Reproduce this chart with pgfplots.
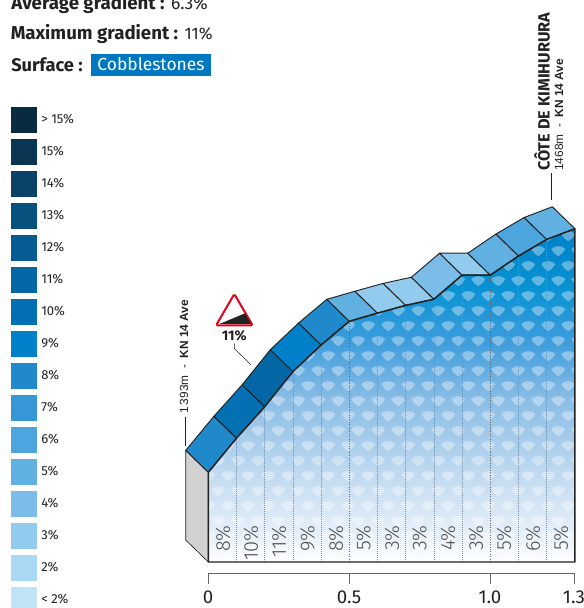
\documentclass[border=0pt]{standalone}
\usepackage{pgfplots}
\pgfplotsset{compat=1.18}
\usepackage{fontspec}
\setmainfont{Fira Sans}
\newfontfamily\arial{Liberation Sans}
\newfontfamily\lightf{Fira Sans Light}
\usetikzlibrary{patterns}
\definecolor{cA}{HTML}{0A2A40}\definecolor{cB}{HTML}{0A3653}\definecolor{cC}{HTML}{0A4268}
\definecolor{cD}{HTML}{07517F}\definecolor{cE}{HTML}{065C92}\definecolor{c11}{HTML}{0367A6}
\definecolor{c10}{HTML}{0270B2}\definecolor{c9}{HTML}{0080C8}\definecolor{c8}{HTML}{1F89CB}
\definecolor{c7}{HTML}{3796D6}\definecolor{c6}{HTML}{4CA5DC}\definecolor{c5}{HTML}{60B0E1}
\definecolor{c4}{HTML}{7BBDE8}\definecolor{c3}{HTML}{93CBEE}\definecolor{c2}{HTML}{AAD8F2}
\definecolor{c1}{HTML}{C3E3F6}\definecolor{ink}{HTML}{222222}
\definecolor{boxblue}{HTML}{0078C1}\definecolor{signred}{HTML}{E2001A}
\definecolor{g1}{HTML}{EAF2FA}\definecolor{g2}{HTML}{C5DCF1}\definecolor{g3}{HTML}{8BBDE6}
\definecolor{g4}{HTML}{3C9CDC}\definecolor{g5}{HTML}{0A93D4}\definecolor{g6}{HTML}{0082C8}
\pgfdeclareverticalshading{climb}{100bp}{
 color(0bp)=(white);
 color(25bp)=(white);
 color(28.3bp)=(g1);
 color(37.3bp)=(g2);
 color(49.3bp)=(g3);
 color(58.35bp)=(g4);
 color(65.85bp)=(g5);
 color(74bp)=(g6);
 color(100bp)=(g6)}
% fan centres at (6.2pt,9pt) and (13.7pt,20.25pt)
\pgfdeclarepatternformonly{fans}{\pgfqpoint{0pt}{0pt}}{\pgfqpoint{20pt}{25pt}}{\pgfqpoint{15pt}{22.5pt}}{
 \pgfpathmoveto{\pgfqpoint{6.2pt}{5.1pt}}
 \pgfpathcurveto{\pgfqpoint{4pt}{6.2pt}}{\pgfqpoint{2pt}{8.2pt}}{\pgfqpoint{0.95pt}{10.4pt}}
 \pgfpathcurveto{\pgfqpoint{3.2pt}{13.4pt}}{\pgfqpoint{9.2pt}{13.4pt}}{\pgfqpoint{11.45pt}{10.4pt}}
 \pgfpathcurveto{\pgfqpoint{10.4pt}{8.2pt}}{\pgfqpoint{8.4pt}{6.2pt}}{\pgfqpoint{6.2pt}{5.1pt}}
 \pgfpathclose
 \pgfpathmoveto{\pgfqpoint{13.7pt}{16.35pt}}
 \pgfpathcurveto{\pgfqpoint{11.5pt}{17.45pt}}{\pgfqpoint{9.5pt}{19.45pt}}{\pgfqpoint{8.45pt}{21.65pt}}
 \pgfpathcurveto{\pgfqpoint{10.7pt}{24.65pt}}{\pgfqpoint{16.7pt}{24.65pt}}{\pgfqpoint{18.95pt}{21.65pt}}
 \pgfpathcurveto{\pgfqpoint{17.9pt}{19.45pt}}{\pgfqpoint{15.9pt}{17.45pt}}{\pgfqpoint{13.7pt}{16.35pt}}
 \pgfpathclose
 \pgfusepath{fill}}
\newcommand{\seg}[5]{\addplot[fill=#1,draw=ink,line width=0.7pt,line join=round] coordinates {#2 #3 #4 #5} -- cycle;}
\begin{document}
\begin{tikzpicture}
\useasboundingbox (0,0) rectangle (438pt,456pt);
\begin{axis}[at={(0,0)},anchor=south west,scale only axis,width=438pt,height=456pt,
 xmin=-0.73865,xmax=1.33227,ymin=1351.22,ymax=1538.41,axis lines=none,clip=false]
% side wall
\addplot[fill=black!18,draw=ink,line width=0.5pt] coordinates {(-0.08,1399.75)(0,1393)(0,1365.38)(-0.08,1372.13)} -- cycle;
% front face, gradient
\addplot[draw=none,shading=climb] coordinates {(0,1365.38)(0,1393)(0.1,1403.5)(0.2,1413.2)(0.3,1424.0)(0.4,1432.2)(0.5,1439.5)(0.6,1442.0)(0.7,1444.4)(0.8,1446.3)(0.9,1453.7)(1.0,1453.7)(1.1,1459.6)(1.2,1464.7)(1.3,1468)(1.3,1365.38)} -- cycle;
\addplot[draw=none,pattern=fans,pattern color=white,fill opacity=0.36] coordinates {(0,1365.38)(0,1393)(0.1,1403.5)(0.2,1413.2)(0.3,1424.0)(0.4,1432.2)(0.5,1439.5)(0.6,1442.0)(0.7,1444.4)(0.8,1446.3)(0.9,1453.7)(1.0,1453.7)(1.1,1459.6)(1.2,1464.7)(1.3,1468)(1.3,1365.38)} -- cycle;
% dotted verticals
\addplot[densely dotted,black!45,line width=0.5pt,forget plot] coordinates {(0.1,1365.38)(0.1,1403.5)};
\addplot[densely dotted,black!45,line width=0.5pt] coordinates {(0.2,1365.38)(0.2,1413.2)};
\addplot[densely dotted,black!45,line width=0.5pt] coordinates {(0.3,1365.38)(0.3,1424.0)};
\addplot[densely dotted,black!45,line width=0.5pt] coordinates {(0.4,1365.38)(0.4,1432.2)};
\addplot[densely dotted,black!60,line width=0.8pt] coordinates {(0.5,1365.38)(0.5,1439.5)};
\addplot[densely dotted,black!45,line width=0.5pt] coordinates {(0.6,1365.38)(0.6,1442.0)};
\addplot[densely dotted,black!45,line width=0.5pt] coordinates {(0.7,1365.38)(0.7,1444.4)};
\addplot[densely dotted,black!45,line width=0.5pt] coordinates {(0.8,1365.38)(0.8,1446.3)};
\addplot[densely dotted,black!45,line width=0.5pt] coordinates {(0.9,1365.38)(0.9,1453.7)};
\addplot[densely dotted,black!60,line width=0.8pt] coordinates {(1.0,1365.38)(1.0,1453.7)};
\addplot[densely dotted,black!45,line width=0.5pt] coordinates {(1.1,1365.38)(1.1,1459.6)};
\addplot[densely dotted,black!45,line width=0.5pt] coordinates {(1.2,1365.38)(1.2,1464.7)};
% top road segments
\seg{c8}{(0,1393)}{(0.1,1403.5)}{(0.02,1410.25)}{(-0.08,1399.75)}
\seg{c10}{(0.1,1403.5)}{(0.2,1413.2)}{(0.12,1419.95)}{(0.02,1410.25)}
\seg{c11}{(0.2,1413.2)}{(0.3,1424.0)}{(0.22,1430.75)}{(0.12,1419.95)}
\seg{c9}{(0.3,1424.0)}{(0.4,1432.2)}{(0.32,1438.95)}{(0.22,1430.75)}
\seg{c8}{(0.4,1432.2)}{(0.5,1439.5)}{(0.42,1446.25)}{(0.32,1438.95)}
\seg{c5}{(0.5,1439.5)}{(0.6,1442.0)}{(0.52,1448.75)}{(0.42,1446.25)}
\seg{c3}{(0.6,1442.0)}{(0.7,1444.4)}{(0.62,1451.15)}{(0.52,1448.75)}
\seg{c3}{(0.7,1444.4)}{(0.8,1446.3)}{(0.72,1453.05)}{(0.62,1451.15)}
\seg{c4}{(0.8,1446.3)}{(0.9,1453.7)}{(0.82,1460.45)}{(0.72,1453.05)}
\seg{c3}{(0.9,1453.7)}{(1.0,1453.7)}{(0.92,1460.45)}{(0.82,1460.45)}
\seg{c5}{(1.0,1453.7)}{(1.1,1459.6)}{(1.02,1466.35)}{(0.92,1460.45)}
\seg{c6}{(1.1,1459.6)}{(1.2,1464.7)}{(1.12,1471.45)}{(1.02,1466.35)}
\seg{c5}{(1.2,1464.7)}{(1.3,1468)}{(1.22,1474.75)}{(1.12,1471.45)}
% heavy front edge
\addplot[draw=ink,line width=1.1pt,line join=round] coordinates {(0,1365.38)(0,1393)(0.1,1403.5)(0.2,1413.2)(0.3,1424.0)(0.4,1432.2)(0.5,1439.5)(0.6,1442.0)(0.7,1444.4)(0.8,1446.3)(0.9,1453.7)(1.0,1453.7)(1.1,1459.6)(1.2,1464.7)(1.3,1468)(1.3,1365.38)(0,1365.38)};
% distance scale
\addplot[draw=black!60,line width=0.7pt] coordinates {(0,1358.6)(0,1362)(1.3,1362)(1.3,1358.6)};
\addplot[draw=black!60,line width=0.7pt] coordinates {(0.5,1362)(0.5,1358.6)};
\addplot[draw=black!60,line width=0.7pt] coordinates {(1.0,1362)(1.0,1358.6)};
\end{axis}
\begin{scope}[x=0.75pt,y=-0.75pt,shift={(0,456pt)}]
\node[anchor=base west,inner sep=0,text=ink,font=\fontsize{13.3}{14}\selectfont] at (11,10) {\fontsize{14}{14}\selectfont\textbf{Average gradient :} \fontsize{13.1}{14}\selectfont 6.3\%};
\node[anchor=base west,inner sep=0,text=ink,font=\fontsize{13.3}{14}\selectfont] at (10.5,39.5) {\fontsize{14}{14}\selectfont\textbf{Maximum gradient :} \fontsize{12.5}{14}\selectfont 11\%};
\node[anchor=base west,inner sep=0,text=ink,font=\fontsize{13.7}{14}\selectfont] at (11,71.5) {\textbf{Surface :}};
\fill[boxblue] (91,54) rectangle (211,76);
\node[anchor=base,inner sep=0,text=white,font=\fontsize{13.1}{14}\selectfont] at (151,71) {Cobblestones};
% legend
\foreach \c/\l [count=\i from 0] in {cA/{> 15\%},cB/15\%,cC/14\%,cD/13\%,cE/12\%,c11/11\%,c10/10\%,c9/9\%,c8/8\%,c7/7\%,c6/6\%,c5/5\%,c4/4\%,c3/3\%,c2/2\%,c1/{< 2\%}}{
 \fill[\c] (11,107+32*\i) rectangle (37,133+32*\i);
 \node[anchor=west,inner sep=0,text=ink,font=\fontsize{9.8}{10}\selectfont] at (41,119.5+32*\i) {\l};
}
% percent labels
\foreach \x/\l in {223/8,251/10,279/11,307.5/9,336/8,363.5/5,392/3,419.5/3,448/4,476/3,504/5,533/6,561/5}{
 \node[rotate=90,anchor=east,inner sep=0,text=black!70,font=\lightf\fontsize{15}{15}\selectfont] at (\x,525) {\l\%};
}
% km labels
\foreach \x/\l in {208/0,349/0.5,490/1.0,574/1.3}{
 \node[anchor=base,inner sep=0,text=ink,font=\fontsize{14}{14}\selectfont] at (\x,604) {\l};
}
% start label
\draw[ink,line width=0.5pt] (185.3,416.7) -- (185.3,445.7);
\node[rotate=90,anchor=west,inner sep=0,text=ink,font=\arial\fontsize{8.9}{10}\selectfont] at (184,414) {1\,393m\; - \;\textbf{KN 14 Ave}};
% summit label
\draw[ink,line width=0.5pt] (551.7,173) -- (551.7,200.5);
\node[rotate=90,anchor=west,inner sep=0,text=ink,font=\fontsize{12.2}{10}\selectfont] at (542,171) {\textbf{CÔTE DE KIMIHURURA}};
\node[rotate=90,anchor=west,inner sep=0,text=ink,font=\arial\fontsize{8.9}{10}\selectfont] at (559,171) {1468m\; - \;\textbf{KN 14 Ave}};
% gradient sign
\draw[line width=1.5pt,rounded corners=1.2pt,signred,fill=white] (234.3,294) -- (252.7,325.5) -- (216,325.5) -- cycle;
\fill[ink] (219.5,324) -- (245,313.3) -- (251,324) -- cycle;
\node[anchor=base,inner sep=0,text=ink,font=\fontsize{10.5}{11}\selectfont\bfseries] at (234.3,341) {11\%};
\draw[ink,line width=0.4pt] (234.3,343.5) -- (234.3,348.5) -- (251,365);
\end{scope}
\end{tikzpicture}
\end{document}
